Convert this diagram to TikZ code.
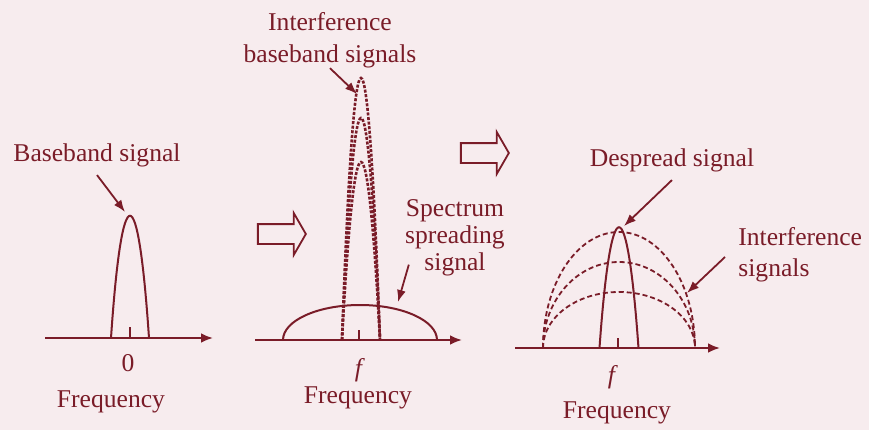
\documentclass[tikz,border=0pt]{standalone}
\usepackage{fontspec}
\setmainfont{Liberation Serif}
\usepackage{tikz}
\usetikzlibrary{arrows.meta, shapes.arrows}

\definecolor{ink}{RGB}{122,28,40}
\definecolor{paper}{RGB}{247,236,238}

\begin{document}
\begin{tikzpicture}[x=0.5pt, y=0.5pt,
    every node/.style={draw=none, inner sep=0pt, text=ink, font=\fontsize{12.8}{15}\selectfont},
    axis/.style={ink, line width=1.3pt, -{Latex[length=6pt, width=5pt]}},
    pulse/.style={ink, line width=1pt},
    dense/.style={ink, line width=1.3pt, dash pattern=on 1.5pt off 0.8pt},
    loose/.style={ink, line width=0.9pt, dash pattern=on 2.5pt off 1.5pt},
    leader/.style={ink, line width=0.9pt, -{Latex[length=6pt, width=4.5pt]}},
    hollow/.style={single arrow, draw=ink, line width=0.9pt, fill=paper, minimum height=24pt,
        inner sep=4.5pt, single arrow tip angle=120, single arrow head extend=5.5pt}]
        \fill[paper] (0,0) rectangle (869,430);
        \useasboundingbox (0,0) rectangle (869,430);

        % Baseband signal
        \coordinate (oa) at (45,92);
        \coordinate (ea) at (213,92);
        \draw[axis] (oa) -- (ea);
        \draw[pulse] (111,92) .. controls (122,255) and (138,255) .. (149,92);
        \draw[pulse] (130,92) -- (130,103);
        \node (zeroa) at (128,67) {0};
        \node (freqa) at (111,28) {Frequency};
        \node (bbl) at (97,275) {Baseband signal};
        \coordinate (bbtip) at (125,218);
        \draw[leader] ([yshift=-4pt]bbl.south) -- (bbtip);

        % 矢印
        \node[hollow] (stepa) at (279,196) {};

        % Spectrum spreading
        \coordinate (ob) at (255,90);
        \coordinate (eb) at (462,90);
        \draw[axis] (ob) -- (eb);
        \draw[pulse] (283,90) arc[start angle=180, end angle=0, x radius=38.5pt, y radius=17.5pt];
        \draw[dense] (342,90) .. controls (354.7,439.3) and (367.3,439.3) .. (380,90);
        \draw[dense] (342,90) .. controls (354.7,386) and (367.3,386) .. (380,90);
        \draw[dense] (342,90) .. controls (354.7,327.3) and (367.3,327.3) .. (380,90);
        \draw[pulse] (359,90) -- (359,100);
        \node (fb) at (360,60) {\textit{f}};
        \node (freqb) at (358,32) {Frequency};
        \node[align=center, font=\fontsize{12.8}{16}\selectfont] (ibl) at (330,390) {Interference\\baseband signals};
        \coordinate (ibtip) at (357,336);
        \draw[leader] (ibl.south) -- (ibtip);
        \node[align=center, font=\fontsize{12.8}{13.5}\selectfont] (ssl) at (455,192) {Spectrum\\spreading\\signal};
        \coordinate (sstip) at (398,128);
        \draw[leader] ([shift={(4,12)}]ssl.south west) -- (sstip);

        % 矢印
        \node[hollow] (stepb) at (482,277) {};

        % Despreading
        \coordinate (oc) at (515,82);
        \coordinate (ec) at (720,82);
        \draw[axis] (oc) -- (ec);
        \draw[pulse] (599.5,82) .. controls (611,243) and (627,243) .. (638.5,82);
        \draw[loose] (543,82) arc[start angle=180, end angle=0, x radius=38pt, y radius=58pt];
        \draw[loose] (543,82) arc[start angle=180, end angle=0, x radius=38pt, y radius=43pt];
        \draw[loose] (543,82) arc[start angle=180, end angle=0, x radius=38pt, y radius=28pt];
        \draw[pulse] (618,82) -- (618,92);
        \node (fc) at (613,53) {\textit{f}};
        \node (freqc) at (617,17) {Frequency};
        \node (dsl) at (672,270) {Despread signal};
        \coordinate (dstip) at (624,204);
        \draw[leader] ([yshift=-4pt]dsl.south) -- (dstip);
        \node[align=left, anchor=west, font=\fontsize{12.8}{15.5}\selectfont] (irl) at (738,175) {Interference\\signals};
        \coordinate (irtip) at (687,137);
        \draw[leader] ([xshift=-6.5pt, yshift=-1pt]irl.west) -- (irtip);
\end{tikzpicture}
\end{document}
